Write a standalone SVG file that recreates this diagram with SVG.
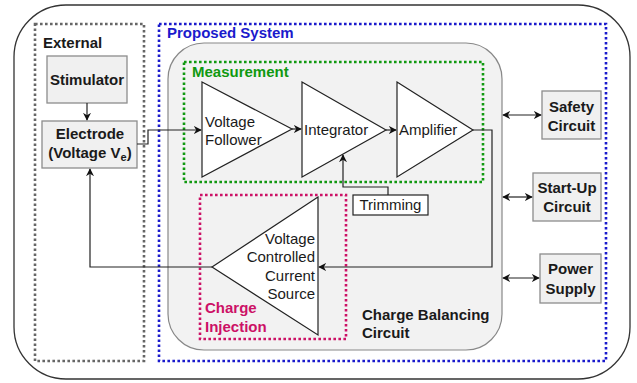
<svg xmlns="http://www.w3.org/2000/svg" width="637" height="383" viewBox="0 0 637 383">
<style>
text{font-family:"Liberation Sans",Arial,sans-serif;font-size:15px;fill:#1a1a1a}
.b{font-weight:bold}
.box{fill:#f0f0f0;stroke:#8c8c8c;stroke-width:1.3}
.tri{fill:#fff;stroke:#222;stroke-width:1.2}
.dot{fill:none;stroke-width:2.6;stroke-dasharray:2.6 2.4}
.ln{fill:none;stroke:#222;stroke-width:1.2}
</style>
<defs>
<marker id="ah" viewBox="0 0 10 10" refX="9" refY="5" markerWidth="8" markerHeight="8" markerUnits="userSpaceOnUse" orient="auto-start-reverse">
<path d="M0,0 L10,5 L0,10 L3,5 z" fill="#111"/>
</marker>
</defs>
<rect id="outer" x="14" y="5" width="616" height="374" rx="52" fill="#fff" stroke="#333" stroke-width="1.3"/>
<g id="external">
<rect x="35" y="24" width="109" height="337" class="dot" stroke="#666"/>
<text x="43" y="48" class="b">External</text>
</g>
<g id="proposed">
<rect x="159" y="24" width="447" height="337" class="dot" stroke="#1a1acc"/>
<text x="167" y="38" class="b" style="fill:#1a1acc">Proposed System</text>
</g>
<g id="chargebalancing">
<rect x="168" y="43" width="334" height="307" rx="36" fill="#f2f2f2" stroke="#888" stroke-width="1.2"/>
<text x="362" y="320" class="b">Charge Balancing</text>
<text x="362" y="338" class="b">Circuit</text>
</g>
<g id="measurement">
<rect x="184" y="62" width="299" height="120" class="dot" stroke="#109910"/>
<text x="192" y="77" class="b" style="fill:#109910">Measurement</text>
</g>
<g id="chargeinjection">
<rect x="200" y="195" width="146" height="144" class="dot" stroke="#cc1166"/>
<text x="205" y="313" class="b" style="fill:#cc1166">Charge</text>
<text x="205" y="332" class="b" style="fill:#cc1166">Injection</text>
</g>
<g id="stimulator">
<rect x="47" y="56" width="80" height="47" class="box"/>
<text x="87" y="85" class="b" text-anchor="middle">Stimulator</text>
</g>
<g id="electrode">
<rect x="42" y="121" width="95" height="47" class="box"/>
<text x="90" y="139" class="b" text-anchor="middle">Electrode</text>
<text x="90" y="158" class="b" text-anchor="middle">(Voltage V<tspan font-size="11" dy="3">e</tspan><tspan dy="-3">)</tspan></text>
</g>
<g id="follower">
<path d="M202,82 L292,129 L202,177 Z" class="tri"/>
<text x="205" y="127">Voltage</text>
<text x="205" y="145">Follower</text>
</g>
<g id="integrator">
<path d="M302,82 L386,130 L302,177 Z" class="tri"/>
<text x="304" y="135">Integrator</text>
</g>
<g id="amplifier">
<path d="M397,82 L473,130 L397,177 Z" class="tri"/>
<text x="399" y="135">Amplifier</text>
</g>
<g id="trimming">
<rect x="353" y="195" width="75" height="20" fill="#fff" stroke="#222" stroke-width="1.2"/>
<text x="390.5" y="210" text-anchor="middle">Trimming</text>
</g>
<g id="vccs">
<path d="M318,197 L212,267 L318,335 Z" class="tri"/>
<text x="315" y="244" text-anchor="end">Voltage</text>
<text x="315" y="262" text-anchor="end">Controlled</text>
<text x="315" y="281" text-anchor="end">Current</text>
<text x="315" y="299" text-anchor="end">Source</text>
</g>
<g id="safety">
<rect x="542" y="91" width="59" height="48" class="box"/>
<text x="571.5" y="112" class="b" text-anchor="middle">Safety</text>
<text x="571.5" y="131" class="b" text-anchor="middle">Circuit</text>
</g>
<g id="startup">
<rect x="533" y="173" width="68" height="48" class="box"/>
<text x="567" y="193" class="b" text-anchor="middle">Start-Up</text>
<text x="567" y="212" class="b" text-anchor="middle">Circuit</text>
</g>
<g id="power">
<rect x="540" y="254" width="61" height="49" class="box"/>
<text x="570.5" y="274" class="b" text-anchor="middle">Power</text>
<text x="570.5" y="294" class="b" text-anchor="middle">Supply</text>
</g>
<g id="connectors">
<path d="M87,103 L87,120" class="ln" marker-end="url(#ah)"/>
<path d="M137,144 L148,144 L148,130 L201,130" class="ln" marker-end="url(#ah)"/>
<path d="M292,129 L301,129" class="ln" marker-end="url(#ah)"/>
<path d="M386,130 L396,130" class="ln" marker-end="url(#ah)"/>
<path d="M473,130 L492,130 L492,267 L319,267" class="ln" marker-end="url(#ah)"/>
<path d="M388,195 L388,187 L343,187 L343,155" class="ln" marker-end="url(#ah)"/>
<path d="M212,267 L90,267 L90,169" class="ln" marker-end="url(#ah)"/>
<path d="M503,115 L541,115" class="ln" marker-start="url(#ah)" marker-end="url(#ah)"/>
<path d="M503,197 L532,197" class="ln" marker-start="url(#ah)" marker-end="url(#ah)"/>
<path d="M503,278 L539,278" class="ln" marker-start="url(#ah)" marker-end="url(#ah)"/>
</g>
</svg>
